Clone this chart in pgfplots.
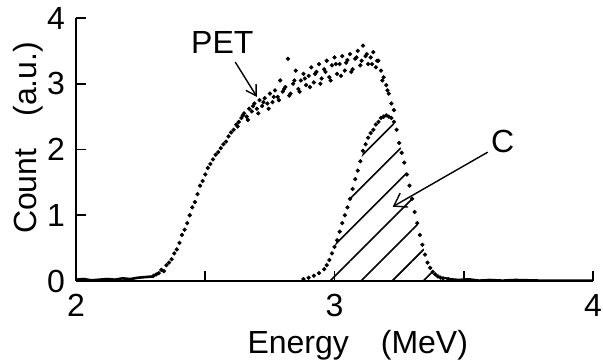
\documentclass[border=0pt]{standalone}
\usepackage{pgfplots}
\pgfplotsset{compat=1.18}
\usepackage{fontspec}
\setmainfont{Liberation Sans}
\usetikzlibrary{patterns.meta,arrows.meta}
\begin{document}
\begin{tikzpicture}
\begin{axis}[
  scale only axis, width=258.5pt, height=131.5pt,
  xmin=2, xmax=4, ymin=0, ymax=4,
  axis x line*=bottom, axis y line*=left,
  axis line style={line width=0.9pt},
  xtick={2,3,4}, minor xtick={2.5,3.5}, ytick={0,1,2,3,4},
  tick align=inside, major tick length=5pt, minor tick length=5pt,
  every tick/.style={line width=0.8pt, black},
  /pgf/number format/assume math mode=true,
  font=\fontsize{16}{19}\selectfont,
  ticklabel style={font=\fontsize{16}{19}\selectfont},
  xticklabel style={yshift=-3pt},
  yticklabel style={xshift=-2pt},
  xlabel={Energy\quad(MeV)},
  ylabel={Count\quad(a.u.)},
  xlabel style={at={(axis description cs:0.545,0)}, anchor=center, yshift=-32pt},
  ylabel style={at={(axis description cs:-0.093,0.544)}, anchor=center, rotate=0},
  clip=false,
]
% baseline noise
\addplot[black, line width=1.3pt] coordinates {
(2.00,0.02) (2.03,0.03) (2.06,0.01) (2.09,0.02) (2.12,0.03) (2.15,0.02) (2.18,0.04) (2.21,0.03) (2.24,0.05) (2.27,0.06) (2.30,0.07)};
\addplot[black, line width=1.0pt] coordinates {
(3.42,0.05) (3.45,0.03) (3.48,0.02) (3.52,0.03) (3.56,0.01) (3.60,0.02) (3.65,0.01) (3.70,0.02) (3.80,0.01) (3.90,0.01) (4.00,0.01)};
% hatched C region
\addplot[draw=none, pattern={Lines[angle=45,distance=11pt,line width=0.8pt]}] coordinates {
(2.94,0) (2.96,0.18) (2.98,0.32) (3.00,0.52) (3.02,0.75) (3.04,1.00) (3.06,1.25) (3.08,1.55) (3.10,1.82) (3.12,2.08) (3.14,2.25) (3.16,2.38) (3.18,2.48) (3.20,2.52) (3.22,2.48) (3.24,2.30) (3.26,1.95) (3.28,1.62) (3.30,1.25) (3.32,0.88) (3.34,0.55) (3.36,0.28) (3.38,0.14) (3.40,0) } -- cycle;
% PET curve
\addplot[only marks, mark=*, mark size=0.85pt, black] coordinates {
(2.30,0.08) (2.31,0.10) (2.32,0.12) (2.33,0.17) (2.34,0.15) (2.35,0.24) (2.36,0.28) (2.37,0.33) (2.38,0.42) (2.39,0.48)
(2.40,0.58) (2.41,0.70) (2.42,0.78) (2.43,0.88) (2.44,1.00) (2.45,1.12) (2.46,1.20) (2.47,1.32) (2.48,1.45) (2.49,1.52)
(2.50,1.62) (2.51,1.72) (2.52,1.78) (2.53,1.85) (2.54,1.92) (2.55,1.96) (2.56,2.02) (2.57,2.08) (2.58,2.12) (2.59,2.20)
(2.60,2.26) (2.61,2.30) (2.62,2.38) (2.63,2.42) (2.64,2.48) (2.65,2.55) (2.66,2.50) (2.67,2.62) (2.68,2.58) (2.69,2.70)
(2.70,2.62) (2.71,2.75) (2.72,2.66) (2.73,2.78) (2.74,2.70) (2.75,2.85) (2.76,2.72) (2.77,2.90) (2.78,2.80) (2.79,3.05)
(2.80,2.88) (2.81,2.95) (2.82,3.38) (2.83,2.85) (2.84,3.00) (2.85,3.20) (2.86,2.92) (2.87,3.05) (2.88,3.15) (2.89,2.98)
(2.90,3.12) (2.91,3.25) (2.92,3.02) (2.93,3.18) (2.94,3.30) (2.95,3.08) (2.96,3.22) (2.97,3.35) (2.98,3.10) (2.99,3.28)
(3.00,3.40) (3.01,3.15) (3.02,3.30) (3.03,3.42) (3.04,3.20) (3.05,3.36) (3.06,3.45) (3.07,3.22) (3.08,3.38) (3.09,3.50)
(3.10,3.28) (3.11,3.58) (3.12,3.42) (3.13,3.30) (3.14,3.40) (3.15,3.48) (3.16,3.25) (3.17,3.35) (3.18,3.20) (3.19,3.10)
(3.20,2.98) (3.21,2.85) (3.22,2.70) (3.23,2.60)
(2.625,2.35) (2.645,2.52) (2.665,2.45) (2.685,2.66) (2.705,2.55) (2.725,2.72) (2.745,2.62) (2.765,2.80) (2.785,2.75) (2.805,2.92)
(2.825,2.82) (2.845,3.05) (2.865,2.88) (2.885,3.08) (2.905,2.95) (2.925,3.15) (2.945,3.00) (2.965,3.18) (2.985,3.05) (3.005,3.30)
(3.025,3.12) (3.045,3.32) (3.065,3.18) (3.085,3.40) (3.105,3.35) (3.125,3.45) (3.145,3.30) (3.165,3.35) (3.185,3.05) (3.205,2.90)
};
% C curve
\addplot[only marks, mark=*, mark size=0.85pt, black] coordinates {
(2.88,0.03) (2.90,0.05) (2.92,0.08) (2.94,0.12) (2.96,0.18) (2.97,0.24) (2.98,0.32) (2.99,0.42) (3.00,0.52) (3.01,0.62)
(3.02,0.75) (3.03,0.88) (3.04,1.00) (3.05,1.12) (3.06,1.25) (3.07,1.40) (3.08,1.55) (3.09,1.68) (3.10,1.82) (3.11,1.98)
(3.12,2.08) (3.13,2.18) (3.14,2.25) (3.15,2.30) (3.16,2.38) (3.17,2.42) (3.18,2.48) (3.19,2.50) (3.20,2.52) (3.21,2.50)
(3.22,2.48) (3.23,2.42) (3.24,2.30) (3.25,2.10) (3.26,1.95) (3.27,1.80) (3.28,1.62) (3.29,1.45) (3.30,1.25) (3.31,1.05)
(3.32,0.88) (3.33,0.70) (3.34,0.55) (3.35,0.40) (3.36,0.28) (3.37,0.20) (3.38,0.14) (3.39,0.10) (3.40,0.07) (3.41,0.05)
(3.42,0.04) (3.44,0.03)
};
\node[font=\fontsize{16}{19}\selectfont] at (axis cs:2.566,3.62) {PET};
\draw[-{Straight Barb[length=5pt,width=6pt]}, line width=0.7pt] (axis cs:2.616,3.33) -- (axis cs:2.70,2.80);
\node[font=\fontsize{16}{19}\selectfont] at (axis cs:3.651,2.12) {C};
\draw[-{Straight Barb[length=6pt,width=8pt]}, line width=0.7pt] (axis cs:3.593,1.96) -- (axis cs:3.225,1.13);
\coordinate (bl) at (rel axis cs:0,0);
\end{axis}
\pgfresetboundingbox
\path (bl) ++(-38pt,-40.5pt) rectangle ++(301.5pt,181pt);
\end{tikzpicture}
\end{document}
